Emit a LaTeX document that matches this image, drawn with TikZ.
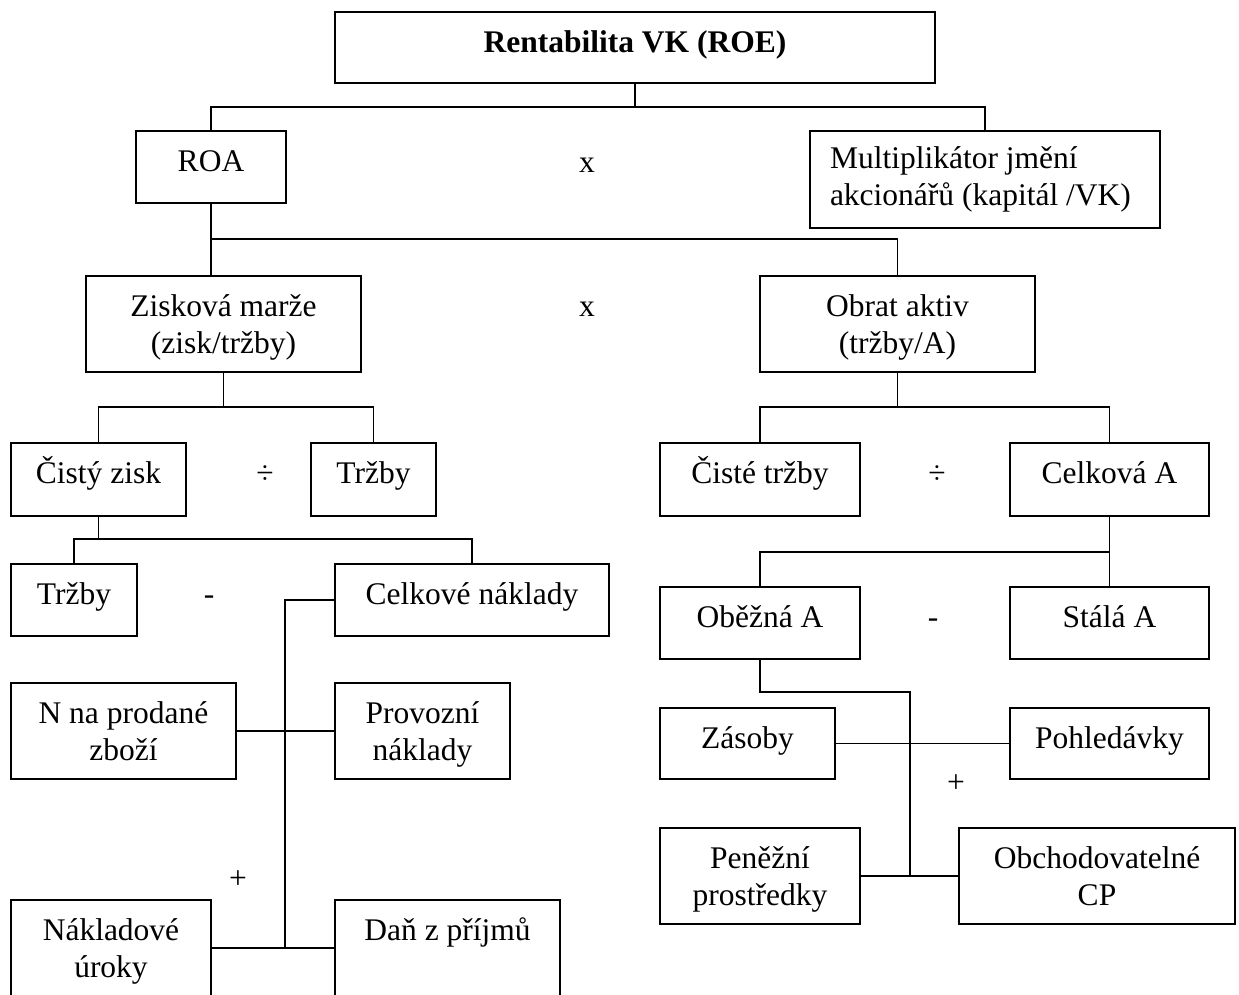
\documentclass[tikz,border=0pt]{standalone}
\usepackage{fontspec}
\setmainfont{Liberation Serif}
\tikzset{
  boxst/.style={draw, line width=1.9pt, rectangle, inner sep=0pt, outer sep=0pt},
  txt/.style={inner sep=0pt, outer sep=0pt, anchor=base, font=\fontsize{31.5pt}{37.5pt}\selectfont},
  conn/.style={line width=1.9pt},
}
\newcommand{\mkbox}[6]{%
  \node[boxst, minimum width={(#4)-(#2)}, minimum height={(#5)-(#3)}] (#1) at ({((#2)+(#4))/2},{((#3)+(#5))/2}) {};
  \node[txt] (#1-t) at ({((#2)+(#4))/2},{(#3)+40}) {\parbox[t]{\dimexpr #4pt-#2pt\relax}{\centering #6}};}
\begin{document}
\begin{tikzpicture}[x=1pt,y=-1pt]
\useasboundingbox (0,0) rectangle (1239,994);
\clip (0,0) rectangle (1239,994);
% boxes
\mkbox{roe}{335}{12}{935}{83}{\textbf{Rentabilita VK (ROE)}}
\mkbox{roa}{136}{131}{286}{203}{ROA}
\node[boxst, minimum width=350pt, minimum height=97pt] (mult) at (985,179.5) {};
\node[txt, anchor=base west] (mult-t) at (830,168) {\parbox[t]{330pt}{\raggedright Multiplikátor jmění\\akcionářů (kapitál /VK)}};
\mkbox{zm}{86}{276}{361}{372}{Zisková marže\\(zisk/tržby)}
\mkbox{oa}{760}{276}{1035}{372}{Obrat aktiv\\(tržby/A)}
\mkbox{cz}{11}{443}{186}{516}{Čistý zisk}
\mkbox{tra}{311}{443}{436}{516}{Tržby}
\mkbox{ct}{660}{443}{860}{516}{Čisté tržby}
\mkbox{ca}{1010}{443}{1209}{516}{Celková A}
\mkbox{trb}{11}{564}{137}{636}{Tržby}
\mkbox{cn}{335}{564}{609}{636}{Celkové náklady}
\mkbox{ob}{660}{587}{860}{659}{Oběžná A}
\mkbox{st}{1010}{587}{1209}{659}{Stálá A}
\mkbox{np}{11}{683}{236}{779}{N na prodané\\zboží}
\mkbox{pn}{335}{683}{510}{779}{Provozní\\náklady}
\mkbox{zs}{660}{708}{835}{779}{Zásoby}
\mkbox{ph}{1010}{708}{1209}{779}{Pohledávky}
\mkbox{nu}{11}{900}{211}{996}{Nákladové\\úroky}
\mkbox{dp}{335}{900}{560}{996}{Daň z příjmů}
\mkbox{pp}{660}{828}{860}{924}{Peněžní\\prostředky}
\mkbox{oc}{959}{828}{1235}{924}{Obchodovatelné\\CP}
% operators
\node[txt] (op1) at (587,172) {x};
\node[txt] (op2) at (587,316) {x};
\node[txt] (op3) at (265,483) {÷};
\node[txt] (op4) at (937,483) {÷};
\node[txt] (op5) at (209,604) {-};
\node[txt] (op6) at (933,627) {-};
\node[txt, anchor=center] (op7) at (238,880) {+};
\node[txt, anchor=center] (op8) at (956,784) {+};
% junction coordinates
\coordinate (j1) at (0,107);
\coordinate (j2) at (0,239);
\coordinate (j3) at (0,407);
\coordinate (j4) at (0,539);
\coordinate (j5) at (0,552);
\coordinate (j6) at (0,692);
\coordinate (v1) at (285,0);
\coordinate (v2) at (910,0);
% connectors
\draw[conn] (roe.south) -- (roe.south |- j1);
\draw[conn] (roa.north) |- (mult.north |- j1) -- (mult.north);
\draw[conn] (roa.south) -- (roa.south |- zm.north);
\draw[conn] (roa.south |- j2) -| (oa.north);
\draw[conn] (zm.south) -- (zm.south |- j3);
\draw[conn] (cz.north) |- (tra.north |- j3) -- (tra.north);
\draw[conn] (cz.south) -- (cz.south |- j4);
\draw[conn] (trb.north) |- (cn.north |- j4) -- (cn.north);
\draw[conn] (cn.west) -| (v1 |- nu.east);
\draw[conn] (np.east) -- (pn.west);
\draw[conn] (nu.east) -- (dp.west);
\draw[conn] (oa.south) -- (oa.south |- j3);
\draw[conn] (ct.north) |- (ca.north |- j3) -- (ca.north);
\draw[conn] (ca.south) -- (st.north);
\draw[conn] (ob.north) |- (ca.south |- j5);
\draw[conn] (ob.south) |- (v2 |- j6) -- (v2 |- pp.east);
\draw[conn] (zs.east) -- (ph.west);
\draw[conn] (pp.east) -- (oc.west);
\end{tikzpicture}
\end{document}
